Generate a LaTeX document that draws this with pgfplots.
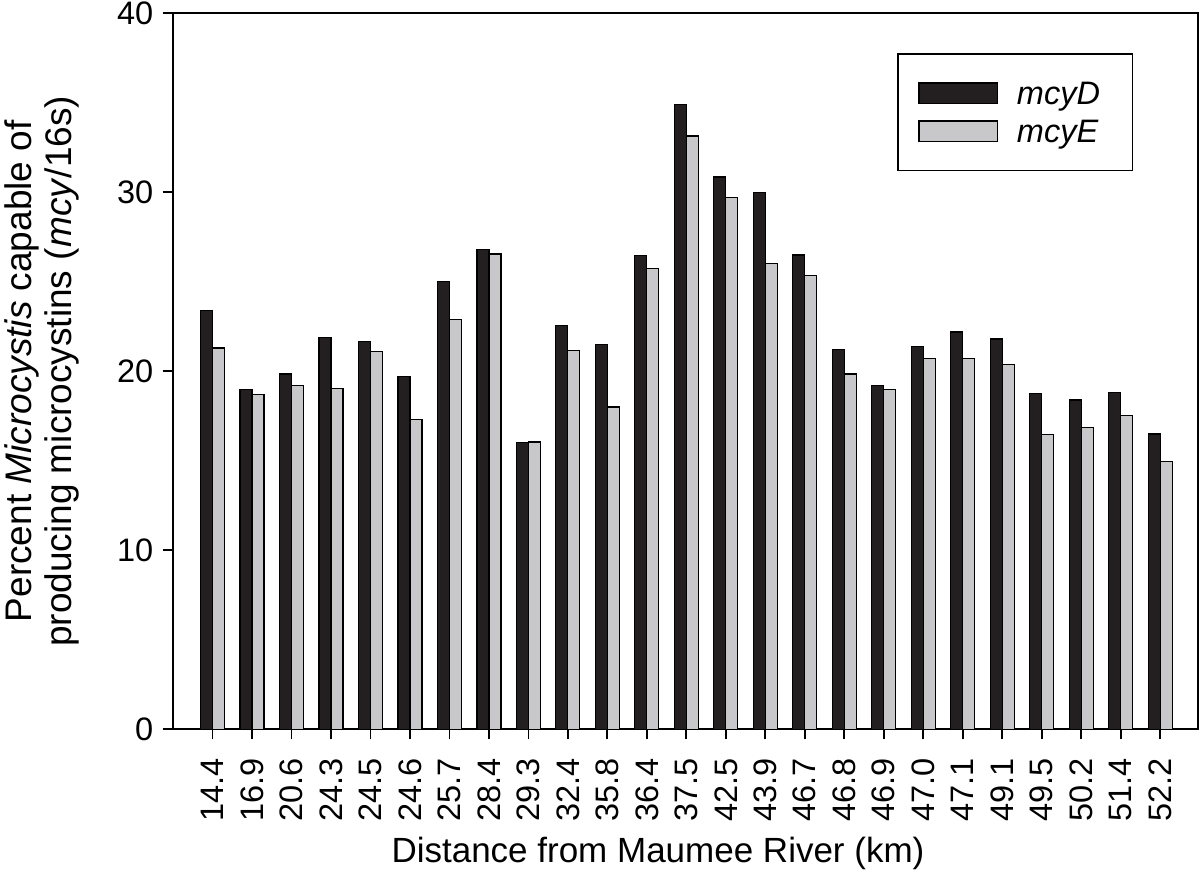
\documentclass[border=0pt]{standalone}
\usepackage{pgfplots}
\pgfplotsset{compat=1.18}
\usepackage{pgfplotstable}
\usepackage{fontspec}
\setmainfont{Liberation Sans}
\definecolor{barD}{RGB}{35,31,32}
\definecolor{barE}{RGB}{200,200,202}
\pgfplotstableread{
idx D E
0 23.4 21.3
1 19.0 18.7
2 19.85 19.2
3 21.9 19.05
4 21.65 21.1
5 19.7 17.3
6 25.0 22.9
7 26.8 26.55
8 16.0 16.05
9 22.55 21.15
10 21.5 18.0
11 26.45 25.75
12 34.9 33.15
13 30.85 29.7
14 30.0 26.0
15 26.5 25.35
16 21.2 19.85
17 19.2 19.0
18 21.4 20.7
19 22.2 20.7
20 21.8 20.4
21 18.75 16.45
22 18.4 16.85
23 18.8 17.55
24 16.5 14.95
}\datatable
\begin{document}
\begin{tikzpicture}
\useasboundingbox (0,0) rectangle (600pt,446.5pt);
\begin{axis}[
 at={(86.35pt,81.85pt)}, anchor=south west,
 scale only axis, width=512.65pt, height=358pt,
 xmin=-1.01, xmax=24.96, ymin=0, ymax=40,
 ybar=0pt, bar width=6pt,
 xtick={0,...,24},
 xticklabels={14.4,16.9,20.6,24.3,24.5,24.6,25.7,28.4,29.3,32.4,35.8,36.4,37.5,42.5,43.9,46.7,46.8,46.9,47.0,47.1,49.1,49.5,50.2,51.4,52.2},
 ytick={0,10,20,30,40},
 xtick pos=bottom, ytick pos=left,
 tick align=outside, major tick length=5pt,
 tick style={black, line width=0.9pt},
 axis line style={line width=0.8pt},
 /pgf/number format/assume math mode=true,
 ticklabel style={font=\fontsize{16.25}{19}\selectfont, inner sep=0pt},
 xticklabel style={rotate=90, anchor=east},
 yticklabel style={anchor=east},
 xticklabel shift=9.35pt,
 yticklabel shift=4.5pt,
 xlabel={Distance from Maumee River (km)},
 xlabel style={at={(axis description cs:0.4733,-0.1728)}, anchor=center, font=\fontsize{17.5}{20}\selectfont},
 ylabel={Percent \textit{Microcystis} capable of\\producing microcystins (\textit{mcy}/16s)},
 ylabel style={at={(axis description cs:-0.1275,0.5)}, anchor=center, align=center, font=\fontsize{18.5}{20}\selectfont},
 legend style={at={(0.7067,0.9441)}, anchor=north west, draw=black, line width=0.8pt,
   inner xsep=10.2pt, inner ysep=14pt, row sep=7.8pt, column sep=9.5pt,
   nodes={inner sep=0pt, text depth=0pt}, font=\fontsize{16.25}{19}\selectfont},
 legend cell align=left,
]
\addplot[fill=barD, draw=black, line width=0.6pt,
  legend image code/.code={\draw[fill=barD,draw=black,line width=0.6pt] (0pt,-5.15pt) rectangle (39.15pt,5.15pt);}]
  table[x=idx,y=D]{\datatable};
\addlegendentry{\textit{mcyD}\hspace*{6pt}}
\addplot[fill=barE, draw=black, line width=0.6pt,
  legend image code/.code={\draw[fill=barE,draw=black,line width=0.6pt] (0pt,-5.15pt) rectangle (39.15pt,5.15pt);}]
  table[x=idx,y=E]{\datatable};
\addlegendentry{\textit{mcyE}\hspace*{6pt}}
\end{axis}
\end{tikzpicture}
\end{document}
